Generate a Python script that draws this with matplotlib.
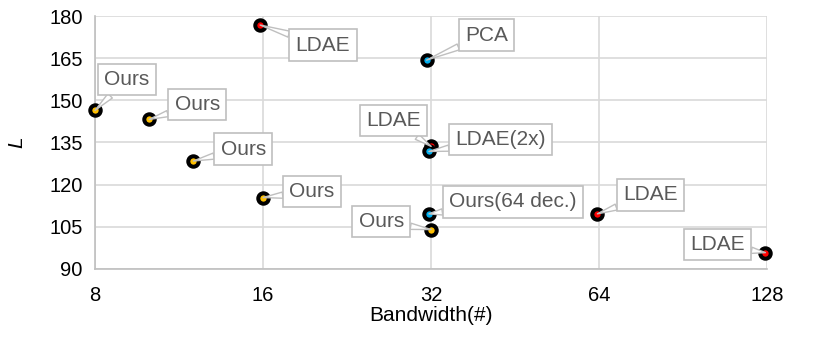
import matplotlib.pyplot as plt
from matplotlib.ticker import FixedLocator, NullLocator

plt.rcParams['font.family'] = ['Liberation Sans', 'DejaVu Sans']

# --- data ---
bandwidth = [15.8, 31.4, 8, 10, 12, 16, 32, 31.7, 31.7, 32, 63.5, 127]
loss = [176.8, 164.3, 146.4, 143.2, 128.4, 115.4, 133.6, 131.8, 109.6, 104.0, 109.6, 95.8]
labels = ["LDAE", "PCA", "Ours", "Ours", "Ours", "Ours", "LDAE", "LDAE(2x)",
          "Ours(64 dec.)", "Ours", "LDAE", "LDAE"]
kinds = ["ldae", "pca", "ours", "ours", "ours", "ours", "ldae", "pca",
         "pca", "ours", "ldae", "ldae"]

x_ticks = [8, 16, 32, 64, 128]
y_ticks = [90, 105, 120, 135, 150, 165, 180]

# --- styles ---
fill = {"ldae": "#ff0000", "pca": "#00b0f0", "ours": "#ffc000"}
# label offsets in pixels (dx, dy)
offsets = [(63, -20), (60, 25), (32, 31), (48, 15), (50, 12), (49, 6),
           (-38, 26), (72, 12), (84, 12), (-50, 8), (53, 19), (-48, 8)]

fig = plt.figure(figsize=(8.3, 3.37), dpi=100)
ax = fig.add_axes([0.1145, 0.202, 0.81, 0.7505])

ax.set_xscale("log", base=2)
ax.set_xlim(8, 128)
ax.set_ylim(90, 180)
ax.xaxis.set_major_locator(FixedLocator(x_ticks))
ax.xaxis.set_minor_locator(NullLocator())
ax.set_xticklabels([str(t) for t in x_ticks])
ax.set_yticks(y_ticks)
ax.tick_params(length=0, labelsize=14.5, pad=12)
ax.tick_params(axis="y", pad=9)

ax.grid(True, color="#d9d9d9", linewidth=1.2)
ax.set_axisbelow(True)
for s in ["top", "right"]:
    ax.spines[s].set_visible(False)
for s in ["left", "bottom"]:
    ax.spines[s].set_color("#bfbfbf")
    ax.spines[s].set_linewidth(1.2)

for i in range(len(bandwidth)):
    ax.plot(bandwidth[i], loss[i], "o", markersize=7.5, markeredgewidth=2.9,
            markerfacecolor=fill[kinds[i]], markeredgecolor="black",
            zorder=4, clip_on=False)

for i in range(len(bandwidth)):
    ax.annotate(labels[i], (bandwidth[i], loss[i]), xytext=offsets[i],
                textcoords="offset pixels", ha="center", va="center",
                fontsize=15, color="#595959", zorder=5,
                bbox=dict(boxstyle="square,pad=0.3", fc="white", ec="#bfbfbf", lw=1.2),
                arrowprops=dict(arrowstyle="wedge,tail_width=0.3,shrink_factor=0.5",
                                fc="white", ec="#bfbfbf", lw=1.0, shrinkA=0, shrinkB=0))

ax.set_xlabel("Bandwidth(#)", fontsize=15, labelpad=1)
ax.set_ylabel("L", fontsize=15, style="italic", labelpad=16)

fig.savefig("out.png", dpi=100)
